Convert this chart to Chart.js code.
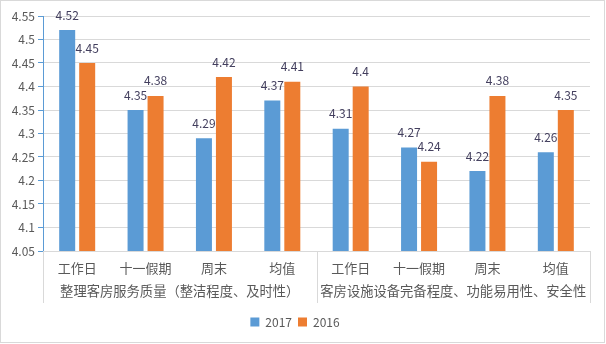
<!DOCTYPE html>
<html>
<head>
<meta charset="utf-8">
<script src="https://cdn.jsdelivr.net/npm/chart.js@4.4.1/dist/chart.umd.min.js"></script>
<style>
html,body{margin:0;padding:0;background:#fff;}
#wrap{width:606px;height:344px;position:relative;}
</style>
</head>
<body>
<div id="wrap"><canvas id="c"></canvas></div>
<script>
const categories = ['工作日','十一假期','周末','均值','工作日','十一假期','周末','均值'];
const groupLabels = ['整理客房服务质量（整洁程度、及时性）','客房设施设备完备程度、功能易用性、安全性'];
const groupSize = 4;
const series2017 = [4.52,4.35,4.29,4.37,4.31,4.27,4.22,4.26];
const series2016 = [4.45,4.38,4.42,4.41,4.40,4.24,4.38,4.35];
const yMin = 4.05, yMax = 4.55, yStep = 0.05;

const FONT = "'Noto Sans CJK SC', 'Noto Sans', sans-serif";

const borderPlugin = {
  id: 'frame',
  beforeDraw(chart) {
    const ctx = chart.ctx;
    ctx.save();
    ctx.fillStyle = '#fff';
    ctx.fillRect(0,0,chart.width,chart.height);
    ctx.strokeStyle = '#d9d9d9';
    ctx.lineWidth = 1;
    ctx.strokeRect(0.5,0.5,604,342);
    ctx.restore();
  }
};

const groupPlugin = {
  id: 'groups',
  afterDraw(chart) {
    const xs = chart.scales.x;
    const ctx = chart.ctx;
    const area = chart.chartArea;
    const half = (xs.getPixelForValue(1) - xs.getPixelForValue(0)) / 2;
    ctx.save();
    ctx.strokeStyle = '#d9d9d9';
    ctx.lineWidth = 1;
    const nGroups = groupLabels.length;
    for (let g = 0; g <= nGroups; g++) {
      let px;
      if (g === 0) px = xs.getPixelForValue(0) - half;
      else px = xs.getPixelForValue(g*groupSize - 1) + half;
      px = Math.round(px) + 0.5;
      ctx.beginPath();
      ctx.moveTo(px, area.bottom);
      ctx.lineTo(px, area.bottom + 52);
      ctx.stroke();
    }
    ctx.fillStyle = '#595959';
    ctx.font = "13.3px " + FONT;
    ctx.textAlign = 'center';
    ctx.textBaseline = 'middle';
    for (let g = 0; g < nGroups; g++) {
      const a = xs.getPixelForValue(g*groupSize);
      const b = xs.getPixelForValue(g*groupSize + groupSize - 1);
      ctx.fillText(groupLabels[g], (a+b)/2, area.bottom + 40);
    }
    ctx.restore();
  }
};

const labelPlugin = {
  id: 'vlabels',
  afterDatasetsDraw(chart) {
    const ctx = chart.ctx;
    ctx.save();
    ctx.fillStyle = '#433f5e';
    ctx.font = "12px " + FONT;
    ctx.textAlign = 'center';
    ctx.textBaseline = 'middle';
    chart.data.datasets.forEach((ds, di) => {
      const meta = chart.getDatasetMeta(di);
      meta.data.forEach((el, i) => {
        const v = ds.data[i];
        ctx.fillText(String(+v.toFixed(2)), el.x, el.y - 15);
      });
    });
    ctx.restore();
  }
};

new Chart(document.getElementById('c'), {
  type: 'bar',
  data: {
    labels: categories,
    datasets: [
      { label: '2017', data: series2017, backgroundColor: '#5B9BD5', categoryPercentage: 0.585, barPercentage: 0.8 },
      { label: '2016', data: series2016, backgroundColor: '#ED7D31', categoryPercentage: 0.585, barPercentage: 0.8 }
    ]
  },
  options: {
    responsive: true,
    maintainAspectRatio: false,
    animation: false,
    layout: { padding: { left: 0, right: 16, top: 16, bottom: 6 } },
    plugins: {
      legend: {
        position: 'bottom',
        labels: { boxWidth: 9, boxHeight: 9, padding: 6, color: '#595959', font: { size: 12, family: FONT } }
      },
      tooltip: { enabled: false }
    },
    scales: {
      x: {
        grid: { display: false, drawTicks: false },
        border: { display: true, color: '#d9d9d9' },
        ticks: { color: '#595959', font: { size: 13, family: FONT }, padding: 9, maxRotation: 0, autoSkip: false },
        afterFit(s) { s.height = 59; }
      },
      y: {
        min: yMin, max: yMax,
        grid: { color: '#d9d9d9', tickColor: '#5B9BD5', tickLength: 5 },
        border: { display: true, color: '#5B9BD5' },
        ticks: {
          stepSize: yStep, color: '#595959', padding: 3,
          font: { size: 12, family: FONT },
          callback: v => String(+(+v).toFixed(2))
        },
        afterFit(s) { s.width = 43; }
      }
    }
  },
  plugins: [borderPlugin, groupPlugin, labelPlugin]
});
</script>
</body>
</html>
